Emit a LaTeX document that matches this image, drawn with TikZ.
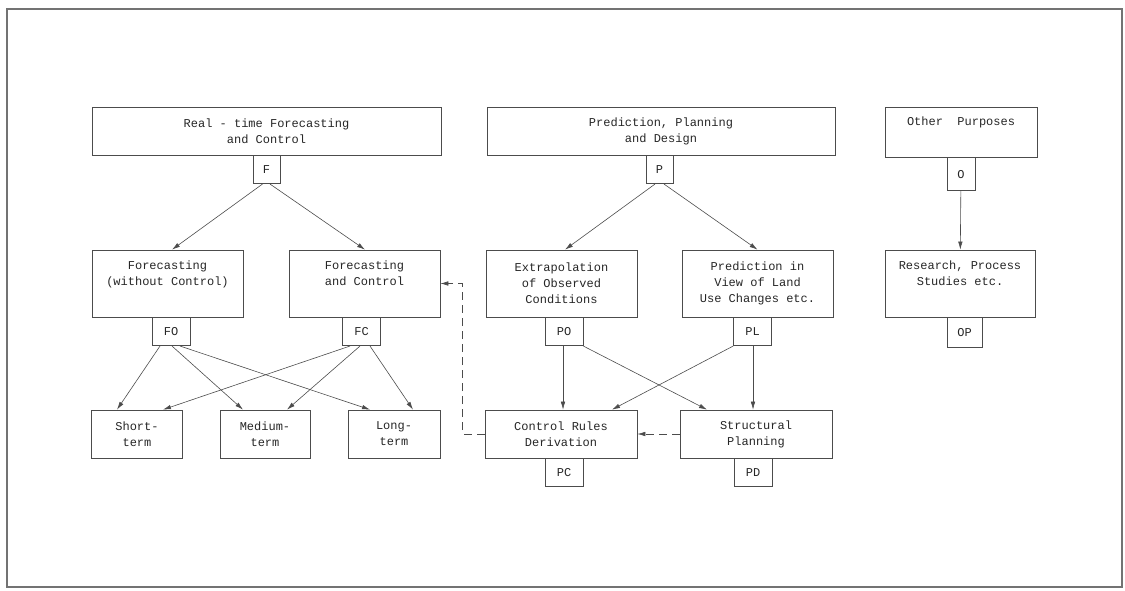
\documentclass[tikz,border=0pt]{standalone}
\usepackage{fontspec}
\newfontfamily\plotfont{Liberation Mono}
\usetikzlibrary{arrows.meta,positioning}

\begin{document}
\begin{tikzpicture}[x=1pt, y=1pt,
    box/.style={draw=black!70, line width=0.7pt, align=center, inner sep=0pt,
        font=\plotfont\fontsize{12}{16}\selectfont, text=black!85},
    codebox/.style={box, minimum width=38pt, minimum height=28pt},
    link/.style={draw=black!70, line width=0.6pt, -{Latex[length=8pt,width=4.5pt]}},
    back/.style={link, dash pattern=on 8pt off 5pt}]
    \useasboundingbox (0,0) rectangle (1125,590);
    \draw[black!55, line width=1.2pt] (7,581) rectangle (1122,3);

    \node[box, minimum width=349pt, minimum height=48pt] (rtfc) at (266.5,459) {Real - time Forecasting\\and Control};
    \node[box, minimum width=348pt, minimum height=48pt] (ppd) at (661,459) {Prediction, Planning\\and Design};
    \node[box, minimum width=152pt, minimum height=50pt] (oth) at (961,458) {Other~~Purposes\\\strut};
    \node[codebox, minimum width=27pt, below=0pt of rtfc] (f) {F};
    \node[codebox, minimum width=27pt, below=0pt of ppd, xshift=-1.5pt] (p) {P};
    \node[codebox, minimum width=28pt, minimum height=33pt, below=0pt of oth] (o) {O};

    \node[box, minimum width=151pt, minimum height=67pt] (fwc) at (167.5,306.5) {Forecasting\\(without Control)\\\strut};
    \node[box, minimum width=151pt, minimum height=67pt] (fac) at (364.5,306.5) {Forecasting\\and Control\\\strut};
    \node[box, minimum width=151pt, minimum height=67pt] (ext) at (561.5,306.5) {Extrapolation\\of Observed\\Conditions};
    \node[box, minimum width=151pt, minimum height=67pt] (piv) at (757.5,306.5) {Prediction in\\View of Land\\Use Changes etc.};
    \node[box, minimum width=150pt, minimum height=67pt] (res) at (960,306.5) {Research, Process\\Studies etc.\\\strut};
    \node[codebox, below=0pt of fwc, xshift=3.5pt] (fo) {FO};
    \node[codebox, below=0pt of fac, xshift=-3pt] (fc) {FC};
    \node[codebox, below=0pt of ext, xshift=2.5pt] (po) {PO};
    \node[codebox, below=0pt of piv, xshift=-5pt] (pl) {PL};
    \node[codebox, minimum width=35pt, minimum height=30pt, below=0pt of res, xshift=4.5pt] (op) {OP};

    \node[box, minimum width=91pt, minimum height=48pt] (st) at (137,156) {Short-\\term};
    \node[box, minimum width=90pt, minimum height=48pt] (mt) at (265,156) {Medium-\\term};
    \node[box, minimum width=92pt, minimum height=48pt] (lt) at (394,156) {Long-\\term};
    \node[box, minimum width=152pt, minimum height=48pt] (crd) at (561,156) {Control Rules\\Derivation};
    \node[box, minimum width=152pt, minimum height=48pt] (sp) at (756,156) {Structural\\Planning};
    \node[codebox, below=0pt of crd, xshift=3pt] (pc) {PC};
    \node[codebox, below=0pt of sp, xshift=-3pt] (pd) {PD};

    \draw[link] ([xshift=-4pt]f.south) -- ([xshift=4.5pt]fwc.north);
    \draw[link] ([xshift=3.5pt]f.south) -- ([xshift=0.5pt]fac.north);
    \draw[link] ([xshift=-4.5pt]p.south) -- ([xshift=3.5pt]ext.north);
    \draw[link] ([xshift=4.5pt]p.south) -- ([xshift=0pt]piv.north);
    \draw[link] (o) -- (res);

    \draw[link] ([xshift=-11pt]fo.south) -- ([xshift=-20pt]st.north);
    \draw[link] ([xshift=1pt]fo.south) -- ([xshift=-22pt]mt.north);
    \draw[link] ([xshift=9pt]fo.south) -- ([xshift=-24pt]lt.north);
    \draw[link] ([xshift=-11.5pt]fc.south) -- ([xshift=26pt]st.north);
    \draw[link] ([xshift=-1.5pt]fc.south) -- ([xshift=22pt]mt.north);
    \draw[link] ([xshift=8.5pt]fc.south) -- ([xshift=19pt]lt.north);

    \draw[link] ([xshift=-1pt]po.south) -- ([xshift=2pt]crd.north);
    \draw[link] (po.south east) -- ([xshift=-49pt]sp.north);
    \draw[link] (pl.south west) -- ([xshift=51pt]crd.north);
    \draw[link] ([xshift=0.5pt]pl.south) -- ([xshift=-3pt]sp.north);

    \draw[back] (sp.west) -- (crd.east);
    \draw[back] (crd.west) -- ++(-22,0) |- (fac.east);
\end{tikzpicture}
\end{document}
